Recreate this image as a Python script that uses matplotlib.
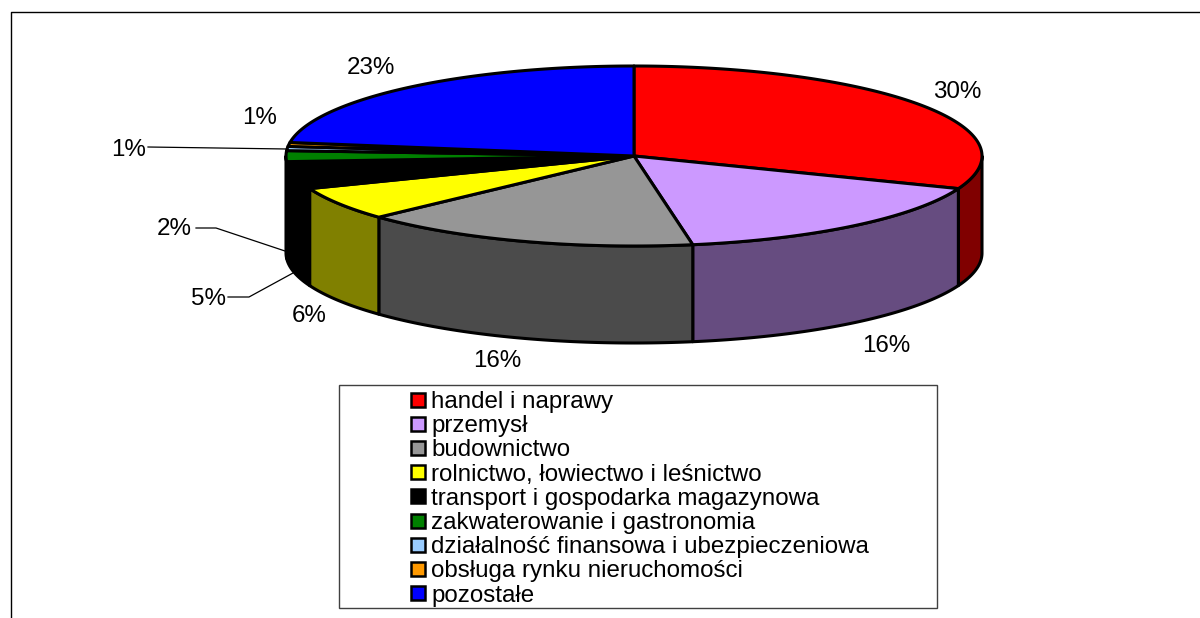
# sector shares drawn as a fake 3D pie, pixel coordinates on a full figure axes
import numpy as np
import matplotlib
matplotlib.use("Agg")
import matplotlib.pyplot as plt
from matplotlib.patches import Polygon, Rectangle

plt.rcParams['font.family'] = ['Liberation Sans', 'DejaVu Sans']

categories = ['handel i naprawy', 'przemysł', 'budownictwo',
              'rolnictwo, łowiectwo i leśnictwo',
              'transport i gospodarka magazynowa',
              'zakwaterowanie i gastronomia',
              'działalność finansowa i ubezpieczeniowa',
              'obsługa rynku nieruchomości', 'pozostałe']
shares = [30.9, 16.4, 15.8, 6.0, 4.9, 1.95, 0.75, 0.7, 22.6]
pct_labels = ['30%', '16%', '16%', '6%', '5%', '2%', '1%', '1%', '23%']
colors = ['#FF0000', '#CC99FF', '#969696', '#FFFF00', '#000000',
          '#008000', '#99CCFF', '#FF9900', '#0000FF']
side_colors = ['#800000', '#664C80', '#4B4B4B', '#808000', '#000000',
               '#004000', '#4C6680', '#804C00', '#000080']

# label placement
label_pos = [(957, 92), (886, 346), (497, 361), (309, 316), (209, 299),
             (174, 229), (129, 150), (260, 118), (371, 68)]
leaders = [[(148, 147), (287, 149)],
           [(196, 228), (216, 228), (285, 251)],
           [(228, 297), (249, 297), (293, 273)]]

cx, cy, rx, ry, depth = 634, 156, 348, 90, 97
FS = 17.4
LW = 2.2

fig = plt.figure(figsize=(12, 6.18), dpi=100)
ax = fig.add_axes([0, 0, 1, 1])
ax.set_xlim(0, 1200)
ax.set_ylim(618, 0)
ax.axis('off')


def arc(a0, a1, dy=0):
    # angles in degrees, clockwise from 12 o'clock
    t = np.radians(np.linspace(a0, a1, max(int(abs(a1 - a0) * 2), 2)))
    return np.column_stack([cx + rx * np.sin(t), cy - ry * np.cos(t) + dy])


# outer frame, only top and left are in the picture
ax.plot([11, 11, 1200], [618, 11.5, 11.5], color='black', lw=1)

edges = np.concatenate([[0], np.cumsum(shares)]) / sum(shares) * 360

# side walls first, only the front half is visible
for i in range(len(shares)):
    a0, a1 = max(edges[i], 90), min(edges[i + 1], 270)
    if a1 <= a0:
        continue
    top = arc(a0, a1)
    bottom = arc(a0, a1, depth)[::-1]
    ax.add_patch(Polygon(np.vstack([top, bottom]), closed=True, fc=side_colors[i],
                         ec='black', lw=LW, joinstyle='round'))

# top face
for i in range(len(shares)):
    pts = np.vstack([[cx, cy], arc(edges[i], edges[i + 1])])
    ax.add_patch(Polygon(pts, closed=True, fc=colors[i], ec='black', lw=LW,
                         joinstyle='round'))

for (x, y), txt in zip(label_pos, pct_labels):
    ax.text(x, y, txt, fontsize=FS, ha='center', va='center', color='black')

for line in leaders:
    xs, ys = zip(*line)
    ax.plot(xs, ys, color='black', lw=0.9)

# legend box
ax.add_patch(Rectangle((339, 385), 598, 223, fc='white', ec='#404040', lw=1))
for i, name in enumerate(categories):
    y = 400 + i * 24.2
    ax.add_patch(Rectangle((411, y - 7.5), 14, 14, fc=colors[i], ec='black', lw=1.8))
    ax.text(431, y + 2, name, fontsize=FS, ha='left', va='center', color='black')

fig.savefig('out.png', dpi=100)
